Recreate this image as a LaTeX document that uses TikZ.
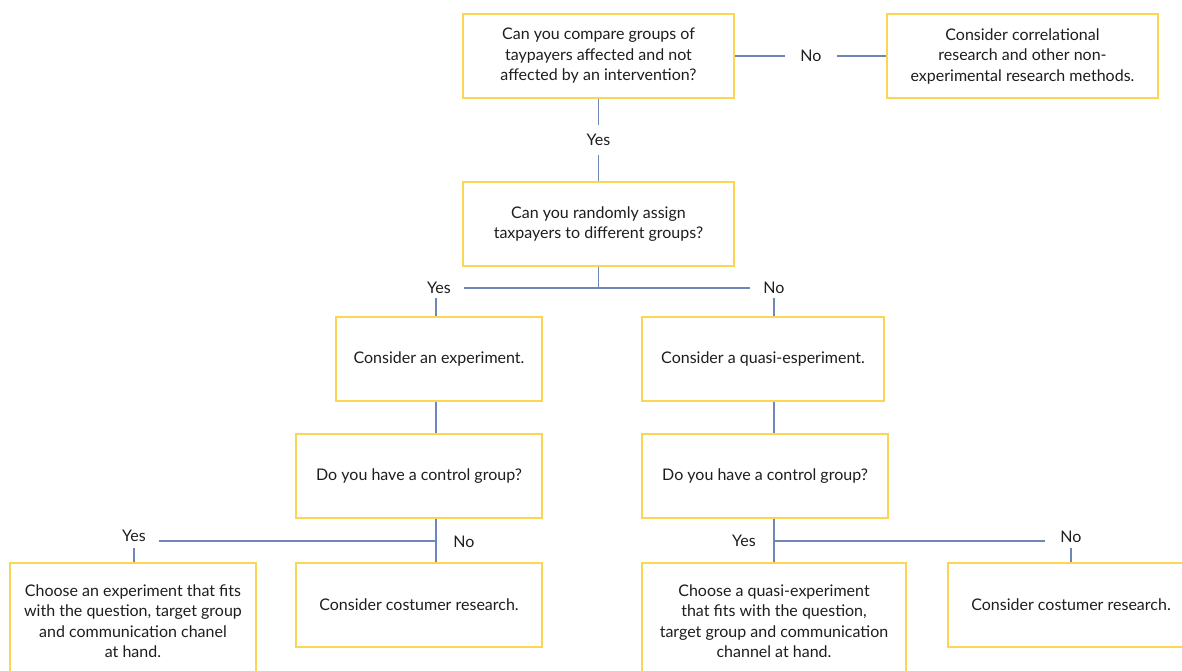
\documentclass[tikz,border=0pt]{standalone}
\usepackage{fontspec}
\setmainfont{Lato}
\definecolor{boxy}{HTML}{FCD653}
\definecolor{lineb}{HTML}{6F86B9}
\definecolor{txt}{HTML}{1E1E1E}
\begin{document}
\begin{tikzpicture}[x=1pt,y=-1pt,
  box/.style={draw=boxy, line width=1.8pt, align=center, text=txt,
    font=\fontsize{16}{20.5}\selectfont, inner sep=0pt},
  conn/.style={draw=lineb, line width=1.8pt},
  lbl/.style={text=txt, font=\fontsize{16}{17}\selectfont, inner sep=0pt}]
\useasboundingbox (0,0) rectangle (1182,671);
\clip (0,0) rectangle (1182,671);
\fill[white] (0,0) rectangle (1182,671);

% boxes
\node[box, minimum width=271pt, minimum height=84pt] (q1) at (598.5,56)
  {Can you compare groups of\\taypayers affected and not\\affected by an intervention?};
\node[box, minimum width=271pt, minimum height=84pt] (q2) at (1022.5,56)
  {Consider correlational\\research and other non-\\experimental research methods.};
\node[box, minimum width=271pt, minimum height=84pt] (q3) at (598.5,224)
  {Can you randomly assign\\taxpayers to different groups?};
\node[box, minimum width=206pt, minimum height=84pt] (c4) at (439,359)
  {Consider an experiment.};
\node[box, minimum width=242pt, minimum height=84pt] (c5) at (763,359)
  {Consider a quasi-esperiment.};
\node[box, minimum width=246pt, minimum height=84pt] (c6) at (419,476)
  {Do you have a control group?};
\node[box, minimum width=246pt, minimum height=84pt] (c7) at (765,476)
  {Do you have a control group?};
\node[box, minimum width=246pt, minimum height=116pt] (c8) at (133,621)
  {Choose an experiment that fits\\with the question, target group\\and communication chanel\\at hand.};
\node[box, minimum width=246pt, minimum height=84pt] (c9) at (419,605)
  {Consider costumer research.};
\node[box, minimum width=264pt, minimum height=116pt] (c10) at (774,621)
  {Choose a quasi-experiment\\that fits with the question,\\target group and communication\\channel at hand.};
\node[box, minimum width=246pt, minimum height=84pt] (c11) at (1071,605)
  {Consider costumer research.};

% labels
\node[lbl, minimum width=52pt] (no1) at (811,56) {No};
\node[lbl, minimum height=30pt] (yes1) at (598.5,140) {Yes};
\node[lbl, minimum width=50pt, minimum height=20pt] (yes2) at (439,288) {Yes};
\node[lbl, minimum width=48pt, minimum height=20pt] (no2) at (774,288) {No};
\node[lbl, minimum width=50pt, minimum height=24pt] (yes3) at (134,536) {Yes};
\node[lbl] (no3) at (464,542) {No};
\node[lbl] (yes4) at (744,541) {Yes};
\node[lbl, minimum width=52pt, minimum height=22pt] (no4) at (1071,537) {No};

\coordinate (lx) at (436,0);
\coordinate (rx) at (774,0);
\coordinate (h1) at (436,541);
\coordinate (h2) at (774,541);

% connectors
\draw[conn] (q1.east) -- (q1.east -| no1.west);
\draw[conn] (no1.east |- q2.west) -- (q2.west);
\draw[conn] (q1.south) -- (yes1.north);
\draw[conn] (yes1.south) -- (q3.north);
\draw[conn] (q3.south) -- (q3.south |- yes2.east);
\draw[conn] (yes2.east) -- (no2.west);
\draw[conn] (yes2.south -| lx) -- (c4.north -| lx);
\draw[conn] (no2.south) -- (no2.south |- c5.north);
\draw[conn] (c4.south -| lx) -- (c6.north -| lx);
\draw[conn] (c5.south -| rx) -- (c7.north -| rx);
\draw[conn] (c6.south -| lx) -- (c9.north -| lx);
\draw[conn] (yes3.east |- h1) -- (h1);
\draw[conn] (yes3.south) -- (yes3.south |- c8.north);
\draw[conn] (c7.south -| rx) -- (c10.north -| rx);
\draw[conn] (h2) -- (no4.west |- h2);
\draw[conn] (no4.south) -- (no4.south |- c11.north);
\end{tikzpicture}
\end{document}
